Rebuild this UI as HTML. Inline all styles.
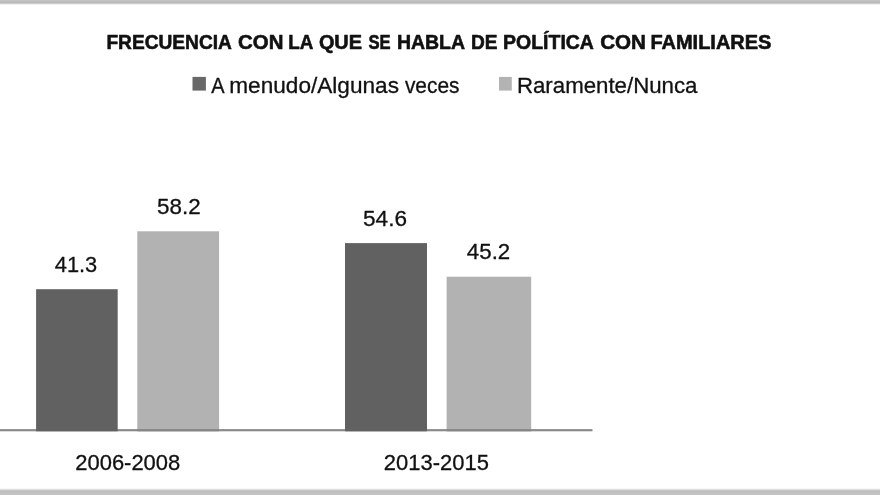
<!DOCTYPE html>
<html lang="es">
<head>
<meta charset="utf-8">
<title>Frecuencia con la que se habla de política con familiares</title>
<style>
html,body{margin:0;padding:0;background:#fff;}
body{width:880px;height:495px;overflow:hidden;}
svg{display:block;}
text{font-family:"Liberation Sans",sans-serif;fill:#111;stroke:#111;stroke-width:0.3px;stroke-linejoin:round;}
.t{font-weight:bold;font-size:20.0px;stroke-width:0.6px;}
.l{font-size:22.0px;}
</style>
</head>
<body>
<svg width="880" height="495" viewBox="0 0 880 495">
<rect x="0" y="0" width="880" height="495" fill="#ffffff"/>
<rect x="0" y="0" width="880" height="1" fill="#c3c3c3"/>
<rect x="0" y="1" width="880" height="1" fill="#bdbdbd"/>
<rect x="0" y="2" width="880" height="1" fill="#b9b9b9"/>
<rect x="0" y="3" width="880" height="1" fill="#cccccc"/>
<rect x="0" y="4" width="880" height="1" fill="#f0f0f0"/>
<rect x="0" y="488" width="880" height="1" fill="#f8f8f8"/>
<rect x="0" y="489" width="880" height="1" fill="#dedede"/>
<rect x="0" y="490" width="880" height="1" fill="#c8c8c8"/>
<rect x="0" y="491" width="880" height="1" fill="#bcbcbc"/>
<rect x="0" y="492" width="880" height="1" fill="#c0c0c0"/>
<rect x="0" y="493" width="880" height="2" fill="#c3c3c3"/>
<rect x="192.5" y="76.9" width="13.4" height="13.7" fill="#686868"/>
<rect x="499" y="76.9" width="12.8" height="13.7" fill="#b3b3b3"/>
<rect x="0" y="429.1" width="592.5" height="2.2" fill="#8a8a8a"/>
<rect x="36.1" y="289.2" width="81.6" height="142.1" fill="#616161"/>
<rect x="137.3" y="231.3" width="81.8" height="198.5" fill="#b2b2b2"/>
<rect x="345" y="243.1" width="82" height="188.2" fill="#616161"/>
<rect x="446.6" y="276.7" width="84.6" height="153.1" fill="#b2b2b2"/>
<rect x="137.3" y="429.1" width="81.8" height="2.2" fill="#858585"/>
<rect x="446.6" y="429.1" width="84.6" height="2.2" fill="#858585"/>
<text class="t" x="106.45" y="49.2" textLength="125.43" lengthAdjust="spacingAndGlyphs">FRECUENCIA</text>
<text class="t" x="238.08" y="49.2" textLength="45.30" lengthAdjust="spacingAndGlyphs">CON</text>
<text class="t" x="288.21" y="49.2" textLength="25.07" lengthAdjust="spacingAndGlyphs">LA</text>
<text class="t" x="318.92" y="49.2" textLength="43.07" lengthAdjust="spacingAndGlyphs">QUE</text>
<text class="t" x="368.54" y="49.2" textLength="22.17" lengthAdjust="spacingAndGlyphs">SE</text>
<text class="t" x="396.88" y="49.2" textLength="68.21" lengthAdjust="spacingAndGlyphs">HABLA</text>
<text class="t" x="470.99" y="49.2" textLength="26.56" lengthAdjust="spacingAndGlyphs">DE</text>
<text class="t" x="503.10" y="49.2" textLength="90.81" lengthAdjust="spacingAndGlyphs">POLÍTICA</text>
<text class="t" x="600.21" y="49.2" textLength="45.79" lengthAdjust="spacingAndGlyphs">CON</text>
<text class="t" x="650.46" y="49.2" textLength="120.96" lengthAdjust="spacingAndGlyphs">FAMILIARES</text>
<text class="l" x="211.15" y="93.1" textLength="13.35" lengthAdjust="spacingAndGlyphs">A</text>
<text class="l" x="229.25" y="93.1" textLength="169.69" lengthAdjust="spacingAndGlyphs">menudo/Algunas</text>
<text class="l" x="404.92" y="93.1" textLength="54.58" lengthAdjust="spacingAndGlyphs">veces</text>
<text class="l" x="516.92" y="93.1" textLength="180.58" lengthAdjust="spacingAndGlyphs">Raramente/Nunca</text>
<text class="l" x="54.77" y="271.6" textLength="42.49" lengthAdjust="spacingAndGlyphs">41.3</text>
<text class="l" x="157.06" y="213.7" textLength="43.61" lengthAdjust="spacingAndGlyphs">58.2</text>
<text class="l" x="363.02" y="225.9" textLength="43.95" lengthAdjust="spacingAndGlyphs">54.6</text>
<text class="l" x="466.89" y="259.4" textLength="43.37" lengthAdjust="spacingAndGlyphs">45.2</text>
<text class="l" x="75.27" y="469.8" textLength="104.97" lengthAdjust="spacingAndGlyphs">2006-2008</text>
<text class="l" x="383.87" y="469.8" textLength="105.06" lengthAdjust="spacingAndGlyphs">2013-2015</text>
</svg>
</body>
</html>
